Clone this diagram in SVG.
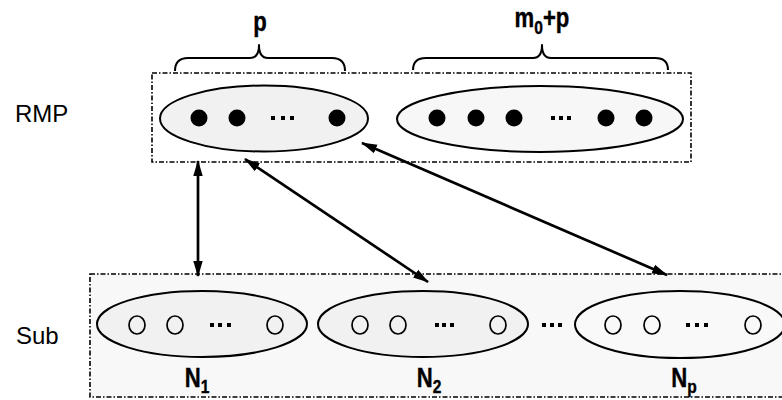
<svg xmlns="http://www.w3.org/2000/svg" width="782" height="400" viewBox="0 0 782 400">
  <style>
    .frame { fill: none; stroke: #000; stroke-width: 1.6; stroke-dasharray: 5 2 1.5 2; }
    .set { fill: #f1f1f1; stroke: #000; stroke-width: 2; }
    .full { fill: #000; }
    .empty { fill: none; stroke: #000; stroke-width: 1.7; }
    .gap { fill: #000; }
    .brace { fill: none; stroke: #000; stroke-width: 2; stroke-linejoin: round; }
    .link { stroke: #000; stroke-width: 2.7; fill: none; marker-start: url(#head); marker-end: url(#head); }
    .side { font-family: "Liberation Sans", Arial, sans-serif; font-size: 24px; fill: #000; }
    .tag { font-family: "Liberation Sans", Arial, sans-serif; font-size: 27px; font-weight: bold; fill: #000; text-anchor: middle; stroke: #000; stroke-width: 0.4; }
    .sub { font-size: 19px; }
  </style>
  <defs>
    <marker id="head" viewBox="0 0 16 11" markerWidth="16" markerHeight="11" refX="15" refY="5.5" orient="auto-start-reverse" markerUnits="userSpaceOnUse">
      <path d="M0,0.8 L16,5.5 L0,10.2 z" fill="#000"/>
    </marker>
  </defs>

  <rect width="782" height="400" fill="#fff"/>

  <!-- side labels -->
  <text class="side" x="15" y="122">RMP</text>
  <text class="side" x="16" y="344">Sub</text>

  <!-- layer frames -->
  <rect id="rmp-frame" class="frame" x="152" y="73" width="539" height="89"/>
  <rect id="sub-frame" class="frame" x="90" y="274" width="700" height="123" style="fill:#f8f8f8"/>

  <!-- braces and their counts -->
  <g id="brace-p">
    <path class="brace" d="M175,71 Q175,58 188,58 L250,58 Q259,58 259,45 Q259,58 268,58 L332,58 Q345,58 345,71"/>
    <g transform="translate(260,31) scale(0.82,1)"><text class="tag" x="0" y="0">p</text></g>
  </g>
  <g id="brace-m0p">
    <path class="brace" d="M413,70 Q413,58 426,58 L533,58 Q542,58 542,45 Q542,58 551,58 L655,58 Q668,58 668,70"/>
    <g transform="translate(542,27) scale(0.82,1)"><text class="tag" x="0" y="0">m<tspan class="sub" dy="7">0</tspan><tspan dy="-7">+p</tspan></text></g>
  </g>

  <!-- RMP sets -->
  <g id="rmp-left">
    <ellipse class="set" cx="264" cy="118.5" rx="104" ry="33"/>
    <circle class="full" cx="199" cy="118" r="8.5"/>
    <circle class="full" cx="237" cy="118" r="8.5"/>
    <rect class="gap" x="271" y="116" width="4" height="4"/>
    <rect class="gap" x="281" y="116" width="4" height="4"/>
    <rect class="gap" x="290" y="116" width="4" height="4"/>
    <circle class="full" cx="337" cy="118" r="8.5"/>
  </g>
  <g id="rmp-right">
    <ellipse class="set" cx="540" cy="119" rx="143" ry="33" style="fill:#f7f7f7"/>
    <circle class="full" cx="437" cy="118" r="8.5"/>
    <circle class="full" cx="476" cy="118" r="8.5"/>
    <circle class="full" cx="514" cy="118" r="8.5"/>
    <rect class="gap" x="551" y="116" width="4" height="4"/>
    <rect class="gap" x="559" y="116" width="4" height="4"/>
    <rect class="gap" x="567" y="116" width="4" height="4"/>
    <circle class="full" cx="606" cy="118" r="8.5"/>
    <circle class="full" cx="644" cy="118" r="8.5"/>
  </g>

  <!-- subproblem sets -->
  <g id="sub-1">
    <ellipse class="set" cx="202" cy="324" rx="105" ry="33"/>
    <ellipse class="empty" cx="137" cy="325" rx="8" ry="9"/>
    <ellipse class="empty" cx="175" cy="325" rx="8" ry="9"/>
    <rect class="gap" x="210" y="323" width="4" height="4"/>
    <rect class="gap" x="218" y="323" width="4" height="4"/>
    <rect class="gap" x="227" y="323" width="4" height="4"/>
    <ellipse class="empty" cx="275" cy="325" rx="8" ry="9"/>
    <g transform="translate(197,387) scale(0.82,1)"><text class="tag" x="0" y="0">N<tspan class="sub" dy="6">1</tspan></text></g>
  </g>
  <g id="sub-2">
    <ellipse class="set" cx="423" cy="324" rx="105" ry="33"/>
    <ellipse class="empty" cx="360" cy="325" rx="8" ry="9"/>
    <ellipse class="empty" cx="398" cy="325" rx="8" ry="9"/>
    <rect class="gap" x="435" y="323" width="4" height="4"/>
    <rect class="gap" x="442" y="323" width="4" height="4"/>
    <rect class="gap" x="450" y="323" width="4" height="4"/>
    <ellipse class="empty" cx="498" cy="325" rx="8" ry="9"/>
    <g transform="translate(429,387) scale(0.82,1)"><text class="tag" x="0" y="0">N<tspan class="sub" dy="6">2</tspan></text></g>
  </g>
  <g id="sub-gap">
    <rect class="gap" x="542" y="323" width="4" height="4"/>
    <rect class="gap" x="550" y="323" width="4" height="4"/>
    <rect class="gap" x="558" y="323" width="4" height="4"/>
  </g>
  <g id="sub-p">
    <ellipse class="set" cx="680" cy="324.5" rx="105" ry="33.5" style="fill:#f9f9f9"/>
    <ellipse class="empty" cx="613" cy="325" rx="8" ry="9"/>
    <ellipse class="empty" cx="652" cy="325" rx="8" ry="9"/>
    <rect class="gap" x="686" y="323" width="4" height="4"/>
    <rect class="gap" x="695" y="323" width="4" height="4"/>
    <rect class="gap" x="704" y="323" width="4" height="4"/>
    <ellipse class="empty" cx="753" cy="325" rx="8" ry="9"/>
    <g transform="translate(684,387) scale(0.82,1)"><text class="tag" x="0" y="0">N<tspan class="sub" dy="6">p</tspan></text></g>
  </g>

  <!-- connectors between the RMP and the subproblems -->
  <g id="connectors">
    <line class="link" x1="198" y1="161" x2="198" y2="276"/>
    <line class="link" x1="245" y1="159" x2="428" y2="282"/>
    <line class="link" x1="362" y1="143" x2="667" y2="275"/>
  </g>
</svg>
